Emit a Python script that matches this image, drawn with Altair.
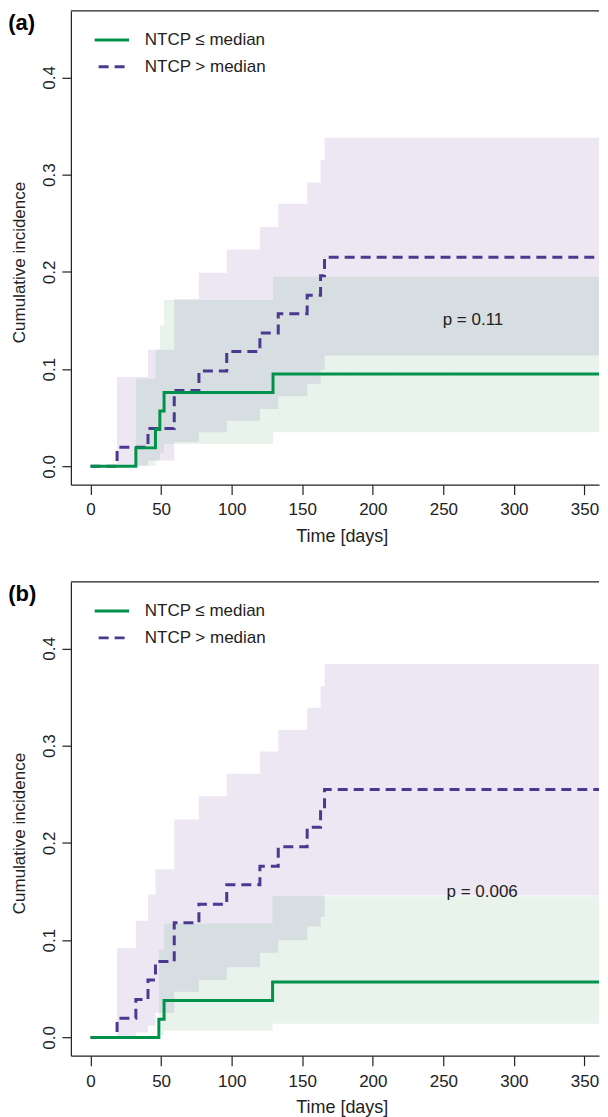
import altair as alt
import pandas as pd

# ---------------- data ----------------
GROUPS = ["NTCP \u2264 median", "NTCP > median"]

# Panel (a) -- NTCP <= median
A_LOW_TIME = [0, 32.1, 46.0, 49.1, 52.1, 129.3, 365]
A_LOW_CIF = [0, 0.019, 0.038, 0.057, 0.076, 0.095, 0.095]
A_LOW_LCL = [0, 0.0005, 0.006, 0.014, 0.023, 0.035, 0.035]
A_LOW_UCL = [0, 0.090, 0.120, 0.145, 0.171, 0.195, 0.195]
# Panel (a) -- NTCP > median
A_HIGH_TIME = [0, 18.8, 40.7, 59.3, 76.8, 96.5, 120.0, 133.0, 153.5, 163.0, 165.8, 365]
A_HIGH_CIF = [0, 0.0196, 0.039, 0.078, 0.098, 0.118, 0.137, 0.157, 0.176, 0.196, 0.215, 0.215]
A_HIGH_LCL = [0, 0.0005, 0.006, 0.025, 0.035, 0.047, 0.059, 0.072, 0.085, 0.099, 0.114, 0.114]
A_HIGH_UCL = [0, 0.092, 0.120, 0.172, 0.199, 0.223, 0.246, 0.270, 0.292, 0.315, 0.338, 0.338]

# Panel (b) -- NTCP <= median
B_LOW_TIME = [0, 48.4, 52.1, 129.0, 365]
B_LOW_CIF = [0, 0.0186, 0.038, 0.057, 0.057]
B_LOW_LCL = [0, 0.002, 0.007, 0.014, 0.014]
B_LOW_UCL = [0, 0.090, 0.117, 0.145, 0.145]
# Panel (b) -- NTCP > median
B_HIGH_TIME = [0, 18.8, 32.1, 40.7, 46.0, 59.3, 76.8, 96.5, 120.0, 133.0, 153.5, 163.0, 165.8, 365]
B_HIGH_CIF = [0, 0.0196, 0.039, 0.059, 0.078, 0.118, 0.137, 0.157, 0.176, 0.196, 0.216, 0.235, 0.255, 0.255]
B_HIGH_LCL = [0, 0.0005, 0.005, 0.012, 0.025, 0.047, 0.059, 0.072, 0.087, 0.100, 0.114, 0.124, 0.146, 0.146]
B_HIGH_UCL = [0, 0.092, 0.120, 0.147, 0.173, 0.224, 0.248, 0.271, 0.294, 0.316, 0.339, 0.361, 0.384, 0.384]

PANEL_TAGS = ["(a)", "(b)"]
P_LABELS = ["p = 0.11", "p = 0.006"]
P_TIME = [271.0, 277.5]
P_CIF = [0.150, 0.149]

X_TICKS = [0, 50, 100, 150, 200, 250, 300, 350]
Y_TICKS = [0.0, 0.1, 0.2, 0.3, 0.4]

# ---------------- styling ----------------
FONT = "Liberation Sans"
INK = "#222222"
GREEN = "#00924a"
PURPLE = "#4b3891"
GREEN_BAND = "#3ca05a"
PURPLE_BAND = "#966ebe"
W, H = 529, 474.5
XDOM = [-13.93, 360.3]
YDOM = [-0.0188, 0.4683]

X_AXIS = alt.Axis(
    values=X_TICKS, title="Time [days]", grid=False,
    domainColor=INK, domainWidth=1.2, tickColor=INK, tickWidth=1.2, tickSize=10,
    labelFont=FONT, labelFontSize=17, labelColor=INK, labelPadding=7.4,
    labelFlush=False, labelOverlap=False,
    titleFont=FONT, titleFontSize=18, titleFontWeight="normal", titleColor=INK,
    titleX=271.3, titleY=57, titleAlign="center", titleBaseline="alphabetic",
)
Y_AXIS = alt.Axis(
    values=Y_TICKS, format=".1f", title="Cumulative incidence", grid=False,
    domainColor=INK, domainWidth=1.2, tickColor=INK, tickWidth=1.2, tickSize=9,
    labelFont=FONT, labelFontSize=17, labelColor=INK, labelAngle=270,
    labelAlign="center", labelBaseline="middle", labelPadding=12.4,
    labelFlush=False, labelOverlap=False,
    titleFont=FONT, titleFontSize=17, titleFontWeight="normal", titleColor=INK,
    titleAngle=270, titleAlign="center", titleBaseline="middle",
    titleX=-51.4, titleY=251.5,
)
LEGEND = alt.Legend(
    title=None, orient="none", legendX=22, legendY=10, padding=0,
    symbolType="stroke", symbolSize=1183, symbolStrokeWidth=3, symbolDashOffset=12,
    labelFont=FONT, labelFontSize=17, labelColor=INK, labelOffset=14,
    rowPadding=-6,
)


def frame(times, cif, lcl, ucl, group):
    return pd.DataFrame({"time": times, "cif": cif, "lower": lcl,
                         "upper": ucl, "group": [group] * len(times)})


def panel(tag, low, high, p_label, p_time, p_cif):
    df = pd.concat([frame(*low, GROUPS[0]), frame(*high, GROUPS[1])], ignore_index=True)
    xs = alt.Scale(domain=XDOM, nice=False, zero=False)
    ys = alt.Scale(domain=YDOM, nice=False, zero=False)
    x_enc = alt.X("time:Q", scale=xs, axis=X_AXIS)

    def y_enc(f):
        return alt.Y(f, scale=ys, axis=Y_AXIS)

    color = alt.Color("group:N", scale=alt.Scale(domain=GROUPS, range=[GREEN, PURPLE]), legend=LEGEND)
    dash = alt.StrokeDash("group:N", scale=alt.Scale(domain=GROUPS, range=[[1, 0], [10, 6]]), legend=LEGEND)

    base = alt.Chart(df)
    band_high = base.transform_filter(alt.datum.group == GROUPS[1]).mark_area(
        interpolate="step-after", color=PURPLE_BAND, opacity=0.17, clip=True
    ).encode(x=x_enc, y=y_enc("lower:Q"), y2="upper:Q")
    band_low = base.transform_filter(alt.datum.group == GROUPS[0]).mark_area(
        interpolate="step-after", color=GREEN_BAND, opacity=0.12, clip=True
    ).encode(x=x_enc, y=y_enc("lower:Q"), y2="upper:Q")
    line_high = base.transform_filter(alt.datum.group == GROUPS[1]).mark_line(
        interpolate="step-after", strokeWidth=3, clip=True
    ).encode(x=x_enc, y=y_enc("cif:Q"), color=color, strokeDash=dash)
    line_low = base.transform_filter(alt.datum.group == GROUPS[0]).mark_line(
        interpolate="step-after", strokeWidth=3, clip=True
    ).encode(x=x_enc, y=y_enc("cif:Q"), color=color, strokeDash=dash)

    ptext = alt.Chart(pd.DataFrame({"time": [p_time], "cif": [p_cif], "label": [p_label]})).mark_text(
        font=FONT, fontSize=17, color=INK, baseline="middle", align="center"
    ).encode(x=x_enc, y=y_enc("cif:Q"), text="label:N")

    tag_df = pd.DataFrame({"tag": [tag]})
    top_line = alt.Chart(tag_df).mark_rule(color=INK, strokeWidth=1.2).encode(
        x=alt.value(0), x2=alt.value(W), y=alt.value(0))
    tag_text = alt.Chart(tag_df).mark_text(
        font=FONT, fontSize=22, fontWeight="bold", align="left", baseline="top", color="black"
    ).encode(x=alt.value(-62.7), y=alt.value(2.2), text="tag:N")

    return alt.layer(band_high, band_low, line_high, line_low, ptext, top_line, tag_text).properties(
        width=W, height=H)


pa = panel(PANEL_TAGS[0], (A_LOW_TIME, A_LOW_CIF, A_LOW_LCL, A_LOW_UCL),
           (A_HIGH_TIME, A_HIGH_CIF, A_HIGH_LCL, A_HIGH_UCL), P_LABELS[0], P_TIME[0], P_CIF[0])
pb = panel(PANEL_TAGS[1], (B_LOW_TIME, B_LOW_CIF, B_LOW_LCL, B_LOW_UCL),
           (B_HIGH_TIME, B_HIGH_CIF, B_HIGH_LCL, B_HIGH_UCL), P_LABELS[1], P_TIME[1], P_CIF[1])

chart = alt.vconcat(pa, pb, spacing=35).resolve_scale(
    color="independent", strokeDash="independent"
).resolve_legend(
    color="independent", strokeDash="independent"
).configure_view(stroke=None).properties(
    padding={"left": 0, "top": 1, "right": 0, "bottom": 0}
)

chart.save("out.html", embed_options={"renderer": "svg", "actions": False})
